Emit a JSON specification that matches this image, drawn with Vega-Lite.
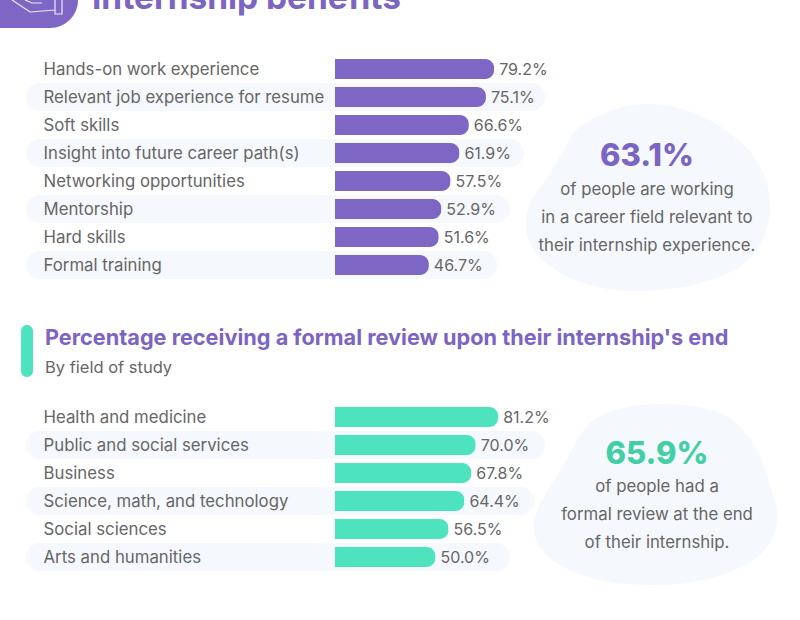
{
"$schema":"https://vega.github.io/schema/vega-lite/v6.json",
"background":"white","padding":0,"spacing":0,"bounds":"flush",
"config":{"view":{"stroke":null},"font":"Inter","axis":{"labelFont":"Inter"}},
"vconcat":[
{"width":800,"height":55,
 "data":{"values":[{"section":"Internship benefits"}]},
 "layer":[
  {"mark":{"type":"rect","color":"#7E66C4","cornerRadiusBottomRight":28,"clip":true},
   "encoding":{"x":{"datum":-1.6667,"type":"quantitative","scale":{"domain":[-1.6667,2.3134]},"axis":null},"x2":{"datum":-1.2786},
   "y":{"datum":-30,"type":"quantitative","scale":{"domain":[0,55],"reverse":true},"axis":null},"y2":{"datum":28}}},
  {"mark":{"type":"point","shape":"M-5 -3 L13 9 L38 7 M38 -3 L38 11 L45 11 L45 -3 M8 -3 L15 0 L25 0","size":4,"filled":false,"stroke":"#EDE9F8","strokeWidth":1.2,"opacity":1,"clip":true},
   "encoding":{"x":{"datum":-1.582,"type":"quantitative","scale":{"domain":[-1.6667,2.3134]},"axis":null},"y":{"datum":3,"type":"quantitative","scale":{"domain":[0,55],"reverse":true},"axis":null}}},
  {"mark":{"type":"text","align":"left","baseline":"alphabetic","fontSize":33.4,"fontWeight":"bold","color":"#7C64C3","clip":true},
   "encoding":{"x":{"datum":-1.209,"type":"quantitative","scale":{"domain":[-1.6667,2.3134]},"axis":null},"y":{"datum":9,"type":"quantitative","scale":{"domain":[0,55],"reverse":true},"axis":null},"text":{"field":"section"}}}
 ]},
{"width":800,"height":224,
 "data":{"values":[
  {"category":"Hands-on work experience","share":0.792},
  {"category":"Relevant job experience for resume","share":0.751},
  {"category":"Soft skills","share":0.666},
  {"category":"Insight into future career path(s)","share":0.619},
  {"category":"Networking opportunities","share":0.575},
  {"category":"Mentorship","share":0.529},
  {"category":"Hard skills","share":0.516},
  {"category":"Formal training","share":0.467}]},
 "encoding":{"y":{"field":"category","type":"nominal","scale":{"domain":["Hands-on work experience","Relevant job experience for resume","Soft skills","Insight into future career path(s)","Networking opportunities","Mentorship","Hard skills","Formal training"],"paddingInner":0,"paddingOuter":0},
  "axis":{"title":null,"ticks":false,"domain":false,"grid":false,"labelAlign":"left","labelPadding":-43,"labelLimit":400,"labelFontSize":16.8,"labelColor":"#666666","labelOffset":1,"zindex":1}}},
 "layer":[
  {"data":{"values":[{"category":"Relevant job experience for resume","to":1.045},{"category":"Insight into future career path(s)","to":0.94},{"category":"Mentorship","to":0.87},{"category":"Formal training","to":0.806}]},
   "mark":{"type":"bar","size":28,"cornerRadius":14,"color":"#F5F8FD"},
   "encoding":{"x":{"field":"to","type":"quantitative","scale":{"domain":[-1.6667,2.3134]},"axis":null},"x2":{"datum":-1.537}}},
  {"data":{"values":[{"category":"Mentorship"}]},
   "mark":{"type":"point","filled":true,"opacity":1,"size":4,"color":"#F5F8FD","shape":"M3 -105 C40 -105 78 -84 100 -61 C115 -44 123 -24 123 -4 C123 20 115 42 90 60 C55 78 20 82 -14 82 C-50 82 -85 70 -107 49 C-117 38 -121 28 -121 16 C-121 -2 -115 -12 -107 -21 C-95 -38 -85 -55 -77 -71 C-65 -90 -30 -105 3 -105 Z"},
   "encoding":{"x":{"datum":1.552,"type":"quantitative","scale":{"domain":[-1.6667,2.3134]},"axis":null}}},
  {"mark":{"type":"bar","size":20,"cornerRadiusEnd":9,"color":"#7E66C4"},
   "encoding":{"x":{"field":"share","type":"quantitative","scale":{"domain":[-1.6667,2.3134]},"axis":null}}},
  {"mark":{"type":"text","align":"left","dx":5,"yOffset":1,"fontSize":16,"color":"#666666"},
   "encoding":{"x":{"field":"share","type":"quantitative","scale":{"domain":[-1.6667,2.3134]},"axis":null},"text":{"field":"share","format":".1%"}}},
  {"data":{"values":[{"category":"Insight into future career path(s)","share":0.631}]},
   "mark":{"type":"text","align":"center","fontSize":31,"fontWeight":800,"color":"#7C64C3","yOffset":4},
   "encoding":{"x":{"datum":1.552,"type":"quantitative","scale":{"domain":[-1.6667,2.3134]},"axis":null},"text":{"field":"share","format":".1%"}}},
  {"data":{"values":[{"category":"Networking opportunities","line":"of people are working"},{"category":"Mentorship","line":"in a career field relevant to"},{"category":"Hard skills","line":"their internship experience."}]},
   "mark":{"type":"text","align":"center","fontSize":16.8,"color":"#666666","yOffset":9},
   "encoding":{"x":{"datum":1.552,"type":"quantitative","scale":{"domain":[-1.6667,2.3134]},"axis":null},"text":{"field":"line"}}}
 ]},
{"width":800,"height":124,
 "data":{"values":[{"section":"Percentage receiving a formal review upon their internship's end","note":"By field of study"}]},
 "layer":[
  {"mark":{"type":"rect","color":"#4EE3BF","cornerRadius":6},
   "encoding":{"x":{"datum":-1.562,"type":"quantitative","scale":{"domain":[-1.6667,2.3134]},"axis":null},"x2":{"datum":-1.5025},
   "y":{"datum":46,"type":"quantitative","scale":{"domain":[0,124],"reverse":true},"axis":null},"y2":{"datum":98}}},
  {"mark":{"type":"text","align":"left","baseline":"alphabetic","fontSize":21.7,"fontWeight":"bold","color":"#7C64C3"},
   "encoding":{"x":{"datum":-1.443,"type":"quantitative","scale":{"domain":[-1.6667,2.3134]},"axis":null},"y":{"datum":66,"type":"quantitative","scale":{"domain":[0,124],"reverse":true},"axis":null},"text":{"field":"section"}}},
  {"mark":{"type":"text","align":"left","baseline":"alphabetic","fontSize":16.5,"color":"#666666"},
   "encoding":{"x":{"datum":-1.443,"type":"quantitative","scale":{"domain":[-1.6667,2.3134]},"axis":null},"y":{"datum":94,"type":"quantitative","scale":{"domain":[0,124],"reverse":true},"axis":null},"text":{"field":"note"}}}
 ]},
{"width":800,"height":168,
 "data":{"values":[
  {"category":"Health and medicine","share":0.812},
  {"category":"Public and social services","share":0.70},
  {"category":"Business","share":0.678},
  {"category":"Science, math, and technology","share":0.644},
  {"category":"Social sciences","share":0.565},
  {"category":"Arts and humanities","share":0.50}]},
 "encoding":{"y":{"field":"category","type":"nominal","scale":{"domain":["Health and medicine","Public and social services","Business","Science, math, and technology","Social sciences","Arts and humanities"],"paddingInner":0,"paddingOuter":0},
  "axis":{"title":null,"ticks":false,"domain":false,"grid":false,"labelAlign":"left","labelPadding":-43,"labelLimit":400,"labelFontSize":16.8,"labelColor":"#666666","labelOffset":1,"zindex":1}}},
 "layer":[
  {"data":{"values":[{"category":"Public and social services","to":1.045},{"category":"Science, math, and technology","to":0.99},{"category":"Arts and humanities","to":0.87}]},
   "mark":{"type":"bar","size":28,"cornerRadius":14,"color":"#F5F8FD"},
   "encoding":{"x":{"field":"to","type":"quantitative","scale":{"domain":[-1.6667,2.3134]},"axis":null},"x2":{"datum":-1.537}}},
  {"data":{"values":[{"category":"Science, math, and technology"}]},
   "mark":{"type":"point","filled":true,"opacity":1,"size":4,"color":"#F5F8FD","shape":"M1 -97 C35 -97 60 -92 75 -82 C95 -65 108 -40 113 -15 C118 0 122 8 120 20 C118 45 100 62 65 74 C45 81 20 84 1 84 C-30 84 -50 82 -65 77 C-100 68 -123 50 -123 27 C-123 10 -115 0 -107 -14 C-95 -30 -85 -55 -72 -73 C-60 -88 -30 -97 1 -97 Z"},
   "encoding":{"x":{"datum":1.602,"type":"quantitative","scale":{"domain":[-1.6667,2.3134]},"axis":null}}},
  {"mark":{"type":"bar","size":20,"cornerRadiusEnd":9,"color":"#4EE3BF"},
   "encoding":{"x":{"field":"share","type":"quantitative","scale":{"domain":[-1.6667,2.3134]},"axis":null}}},
  {"mark":{"type":"text","align":"left","dx":5,"yOffset":1,"fontSize":16,"color":"#666666"},
   "encoding":{"x":{"field":"share","type":"quantitative","scale":{"domain":[-1.6667,2.3134]},"axis":null},"text":{"field":"share","format":".1%"}}},
  {"data":{"values":[{"category":"Public and social services","share":0.659}]},
   "mark":{"type":"text","align":"center","fontSize":31,"fontWeight":800,"color":"#42CFA5","yOffset":10},
   "encoding":{"x":{"datum":1.602,"type":"quantitative","scale":{"domain":[-1.6667,2.3134]},"axis":null},"text":{"field":"share","format":".1%"}}},
  {"data":{"values":[{"category":"Business","line":"of people had a"},{"category":"Science, math, and technology","line":"formal review at the end"},{"category":"Social sciences","line":"of their internship."}]},
   "mark":{"type":"text","align":"center","fontSize":16.8,"color":"#666666","yOffset":14},
   "encoding":{"x":{"datum":1.602,"type":"quantitative","scale":{"domain":[-1.6667,2.3134]},"axis":null},"text":{"field":"line"}}}
 ]}
]}
